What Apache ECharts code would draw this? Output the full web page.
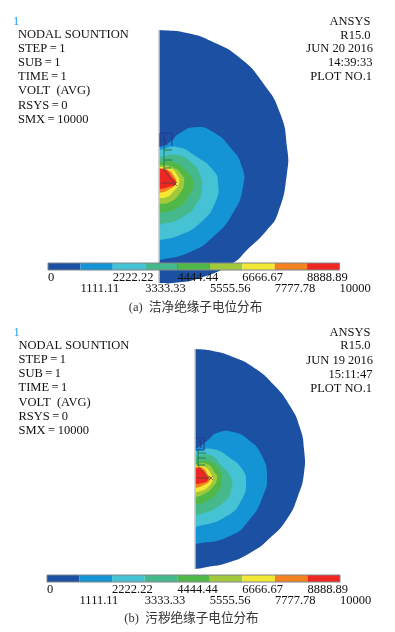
<!DOCTYPE html>
<html><head><meta charset="utf-8">
<style>html,body{margin:0;padding:0;background:#fff}#c{width:395px;height:632px}canvas{filter:blur(.35px)}</style>
<script src="https://cdn.jsdelivr.net/npm/echarts@6/dist/echarts.min.js"></script>
</head><body><div id="c"></div>
<script>
// Contour outlines: [radius from axis, height above electrode]
const outerA=[[0,153],[28,150],[54,141],[81,125],[104,100],[121,70],[128,36],[128,10],[119,-30],[108,-47],[88,-67],[74,-80],[41,-95],[14,-100],[0,-100]];
const band1A=[[0,36],[11,41],[21,50],[38,56],[54,51],[71,36],[83,16],[84,-4],[74,-30],[54,-54],[31,-69],[0,-77]];
const band2A=[[0,33],[18,36],[38,26],[54,13],[59,1],[56,-20],[41,-40],[21,-52],[0,-57]];
const band3A=[[0,26],[18,28],[33,20],[41,8],[43,-4],[38,-20],[24,-34],[0,-42]];
const band4A=[[0,21],[14,21],[26,13],[34,1],[29,-14],[18,-25],[0,-30]];
const band5A=[[0,18],[13,16],[23,8],[25,0],[21,-10],[11,-19],[0,-21]];
const band6A=[[0,16],[11,15],[18,8],[20,0],[14,-9],[8,-14],[0,-15]];
const band7A=[[0,15],[9,13],[15,7],[17,0],[11,-6],[0,-10]];
const band8A=[[0,14],[7,13],[13,6],[17,0],[10,-4],[0,-6]];
const outerB=[[0,130],[18,128],[38,122],[58,112],[78,95],[95,73],[105,51],[109,30],[109,6],[103,-17],[92,-40],[75,-59],[55,-74],[32,-84],[12,-88],[0,-90]];
const band1B=[[0,30],[12,38],[22,46],[38,47],[55,38],[67,23],[72,3],[68,-17],[55,-40],[35,-57],[0,-65]];
const band2B=[[0,28],[18,30],[35,21],[47,10],[51,-2],[47,-20],[32,-37],[0,-48]];
const band3B=[[0,23],[15,24],[27,13],[35,3],[37,-7],[28,-24],[0,-37]];
const band4B=[[0,17],[14,18],[24,10],[27,0],[22,-14],[12,-22],[0,-26]];
const band5B=[[0,15],[12,15],[20,6],[22,0],[17,-9],[9,-15],[0,-18]];
const band6B=[[0,13],[10,12],[16,5],[18,0],[13,-8],[6,-12],[0,-13]];
const band7B=[[0,12],[8,11],[13,4],[15,-1],[9,-6],[0,-9]];
const band8B=[[0,11],[6,10],[11,4],[13,-1],[7,-4],[0,-5]];
// Axis edge of each domain
const edgeA=[[[0,153],[0,-100]]];
const edgeB=[[[0,130],[0,-90]]];
// Insulator mesh strokes
const meshDarkA=[[[1,50],[13,50],[13,37]],[[5,50],[5,36]],[[1,50],[1,36]],[[6,44],[8,38]]];
const meshGreenA=[[[5,36],[5,13]],[[5,33],[13,33]],[[5,23],[13,23]],[[5,15],[12,15]]];
const meshBlackA=[[[5,13],[15,0],[2,0]],[[14,-3],[18,1]],[[14,1],[18,-3]]];
const meshDarkB=[[[1,41],[9,41],[9,29],[1,29]],[[5,39],[6,31]]];
const meshGreenB=[[[3,29],[3,13]],[[3,26],[11,26]],[[3,21],[11,21]],[[3,14],[10,14]]];
const meshBlackB=[[[3,13],[14,1],[2,1]],[[14,-1],[18,3]],[[14,3],[18,-1]]];
// Colour bar
const levels=[0,1111.11,2222.22,3333.33,4444.44,5555.56,6666.67,7777.78,8888.89,10000];
const ticksUpper=[0,2222.22,4444.44,6666.67,8888.89];
const ticksLower=[1111.11,3333.33,5555.56,7777.78,10000];
const bandColors=['#1c50a2','#1594d5','#45c2d3','#46b98c','#50b848','#a2c93c','#f2e935','#f58220','#ee2722'];
// Text
const infoA=['NODAL SOUNTION','STEP\u2009=\u20091','SUB\u2009=\u20091','TIME\u2009=\u20091','VOLT  (AVG)','RSYS\u2009=\u20090','SMX\u2009=\u200910000'];
const infoB=infoA;
const stampA=['ANSYS','R15.0','JUN 20 2016','14:39:33','PLOT NO.1'];
const stampB=['ANSYS','R15.0','JUN 19 2016','15:11:47','PLOT NO.1'];
const captionA='(a)  洁净绝缘子电位分布';
const captionB='(b)  污秽绝缘子电位分布';

const SERIF='"Liberation Serif","DejaVu Serif",serif';
function poly(points,color,ax){
  const pts=points.concat([[-8,points[points.length-1][1]],[-8,points[0][1]]]);
  return {type:'custom',coordinateSystem:'cartesian2d',xAxisIndex:ax,yAxisIndex:ax,clip:true,silent:true,data:[points[0]],
    renderItem:(p,api)=>({type:'polygon',shape:{points:pts.map(q=>api.coord(q)),smooth:0.55},style:{fill:color,stroke:null}})};
}
function mesh(lines,color,width,ax){
  return {type:'custom',coordinateSystem:'cartesian2d',xAxisIndex:ax,yAxisIndex:ax,clip:false,silent:true,z:4,data:lines.map(l=>l[0]),
    renderItem:(p,api)=>({type:'polyline',shape:{points:lines[p.dataIndex].map(q=>api.coord(q))},style:{stroke:color,fill:null,lineWidth:width}})};
}
function colorbar(gi,ax){
  const bars={type:'custom',coordinateSystem:'cartesian2d',xAxisIndex:ax,yAxisIndex:gi,z:6,silent:true,
    data:bandColors.map((c,i)=>[levels[i],levels[i+1]]),
    renderItem:(p,api)=>{const a=api.coord([api.value(0),1]),b=api.coord([api.value(1),0]);
      return {type:'rect',shape:{x:a[0],y:a[1],width:b[0]-a[0],height:b[1]-a[1]},style:{fill:bandColors[p.dataIndex]}};}};
  const frame={type:'custom',coordinateSystem:'cartesian2d',xAxisIndex:ax,yAxisIndex:gi,z:7,silent:true,data:[[0,10000]],
    renderItem:(p,api)=>{const a=api.coord([0,1]),b=api.coord([10000,0]);
      return {type:'rect',shape:{x:a[0],y:a[1],width:b[0]-a[0],height:b[1]-a[1]},style:{fill:null,stroke:'#80848a',lineWidth:1}};}};
  return [bars,frame];
}
function domAxes(idx,rMax){return {x:{type:'value',gridIndex:idx,min:0,max:rMax,show:false},
  y:{type:'value',gridIndex:idx,min:-105,max:160,show:false}};}
function barAxis(gi,vals,off){return {type:'value',gridIndex:gi,min:0,max:10000,position:'bottom',offset:off,z:10,
  axisLine:{show:false},axisTick:{show:false},splitLine:{show:false},
  axisLabel:{customValues:vals,margin:1,align:'left',color:'#111',fontFamily:SERIF,fontSize:12.5,hideOverlap:false,formatter:v=>String(v)}};}
const da=domAxes(0,135),db=domAxes(1,115);
const barY=gi=>({type:'value',gridIndex:gi,min:0,max:1,show:false});
function textBlock(lines,x,ys,align){return lines.map((t,i)=>({type:'text',z:20,x:Array.isArray(x)?x[i]:x,y:ys[i],
  style:{text:t,fill:'#111',font:'12.5px '+SERIF,textAlign:align,textVerticalAlign:'middle'}}));}
const CAP='12.6px "Liberation Serif","Noto Sans CJK SC"';
const g=[].concat(
  textBlock(infoA,18,[34.7,48.7,62.7,77,91,105.5,119.5],'left'),
  textBlock(stampA,[370.5,370.5,373,372.5,372],[21.7,35.5,49,63,77],'right'),
  textBlock(infoB,18.5,[345.5,359.5,374,388,402.5,416.5,430.5],'left'),
  textBlock(stampB,[370.5,370.5,373,372.5,372],[332.7,346,360.5,375,388.7],'right'),
  [{type:'text',z:20,x:13,y:22,style:{text:'1',fill:'#1ea0e6',font:'12.5px '+SERIF,textAlign:'left',textVerticalAlign:'middle'}},
   {type:'text',z:20,x:13.5,y:333,style:{text:'1',fill:'#1ea0e6',font:'12.5px '+SERIF,textAlign:'left',textVerticalAlign:'middle'}},
   {type:'text',z:20,x:195.5,y:308,style:{text:captionA,fill:'#333',font:CAP,textAlign:'center',textVerticalAlign:'middle'}},
   {type:'text',z:20,x:191.5,y:618.5,style:{text:captionB,fill:'#333',font:CAP,textAlign:'center',textVerticalAlign:'middle'}}]
);
const setA=[outerA,band1A,band2A,band3A,band4A,band5A,band6A,band7A,band8A];
const setB=[outerB,band1B,band2B,band3B,band4B,band5B,band6B,band7B,band8B];
const series=[].concat(
  setA.map((s,i)=>poly(s,bandColors[i],0)),
  [mesh(edgeA,'#c4c8cc',1.5,0),mesh(meshDarkA,'#24398c',1,0),mesh(meshGreenA,'#1f7a4a',1,0),mesh(meshBlackA,'#444',.7,0)],
  setB.map((s,i)=>poly(s,bandColors[i],1)),
  [mesh(edgeB,'#c4c8cc',1.5,1),mesh(meshDarkB,'#24398c',1,1),mesh(meshGreenB,'#1f7a4a',1,1),mesh(meshBlackB,'#444',.7,1)],
  colorbar(2,2),colorbar(3,4)
);
const chart=echarts.init(document.getElementById('c'),null,{renderer:'canvas',width:395,height:632});
chart.setOption({animation:false,backgroundColor:'#fff',
  grid:[{left:159,width:135,top:23,height:265},
        {left:195,width:115,top:319,height:265},
        {left:48,width:291.5,top:263,height:7},
        {left:47,width:293,top:575,height:7}],
  xAxis:[da.x,db.x,barAxis(2,ticksUpper,0),barAxis(2,ticksLower,11),barAxis(3,ticksUpper,0),barAxis(3,ticksLower,11)],
  yAxis:[da.y,db.y,barY(2),barY(3)],
  graphic:g,series});
</script></body></html>
